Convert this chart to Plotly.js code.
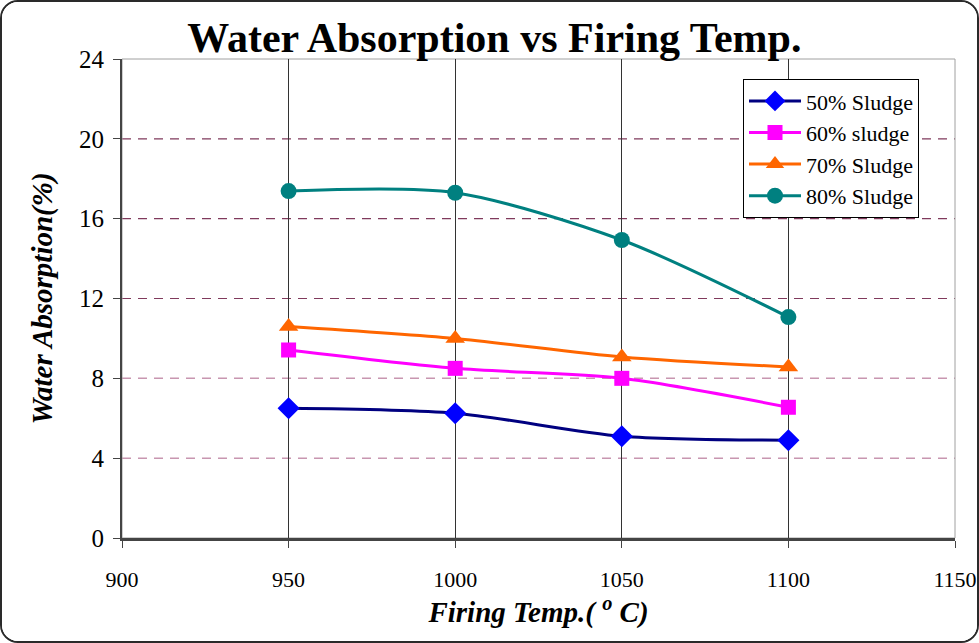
<!DOCTYPE html>
<html>
<head>
<meta charset="utf-8">
<script src="https://cdn.plot.ly/plotly-3.0.1.min.js"></script>
<style>
  html, body { margin: 0; padding: 0; background: #fff; }
  #frame { width: 979px; height: 643px; box-sizing: border-box; border: 2px solid #2a2a2a; border-radius: 18px; overflow: hidden; background: #fff; }
  #chart { width: 975px; height: 639px; }
</style>
</head>
<body>
<div id="frame"><div id="chart"></div></div>
<script>
const temps = [950, 1000, 1050, 1100];
const sludge50 = [6.5, 6.25, 5.1, 4.9];
const sludge60 = [9.42, 8.5, 8.0, 6.55];
const sludge70 = [10.6, 10.0, 9.07, 8.57];
const sludge80 = [17.38, 17.3, 14.93, 11.07];
const seriesNames = ['50% Sludge', '60% sludge', '70% Sludge', '80% Sludge'];
const xTicks = [900, 950, 1000, 1050, 1100, 1150];
const yTicks = [0, 4, 8, 12, 16, 20, 24];
const darkGridVals = [12, 16, 20];
const lightGridVals = [4, 8];

const serif = "'Liberation Serif', 'Times New Roman', serif";

function mk(y, name, lineColor, markerColor, symbol, size) {
  return {
    x: temps, y: y, name: name, type: 'scatter', mode: 'lines+markers',
    line: {color: lineColor, width: 3, shape: 'spline', smoothing: 0.8},
    marker: {color: markerColor, symbol: symbol, size: size, line: {width: 0}},
    legendgroup: name
  };
}

const data = [
  mk(sludge50, seriesNames[0], '#000080', '#0000ff', 'diamond', 17),
  mk(sludge60, seriesNames[1], '#ff00ff', '#ff00ff', 'square', 15),
  mk(sludge70, seriesNames[2], '#ff6600', '#ff6600', 'triangle-up', 17),
  mk(sludge80, seriesNames[3], '#008080', '#008080', 'circle', 16)
];

const shapes = [];
darkGridVals.forEach(v => shapes.push({type: 'line', xref: 'paper', yref: 'y', x0: 0, x1: 1, y0: v, y1: v, layer: 'below', line: {color: '#803a5c', width: 1.2, dash: '9px,7px'}}));
lightGridVals.forEach(v => shapes.push({type: 'line', xref: 'paper', yref: 'y', x0: 0, x1: 1, y0: v, y1: v, layer: 'below', line: {color: '#c896b0', width: 1.5, dash: '9px,7px'}}));
shapes.push({type: 'rect', xref: 'paper', yref: 'paper', x0: 0, x1: 1, y0: 0, y1: 1, layer: 'below', line: {color: '#a0a0a0', width: 1}});

const layout = {
  width: 975, height: 639,
  margin: {l: 120, r: 22, t: 57, b: 103},
  paper_bgcolor: '#ffffff', plot_bgcolor: '#ffffff',
  font: {family: serif, color: '#000'},
  title: {text: '<b>Water Absorption vs Firing Temp.</b>', font: {family: serif, size: 42, color: '#000'}, x: 0.505, xref: 'container', xanchor: 'center', y: 0.944, yref: 'container', yanchor: 'middle'},
  xaxis: {
    range: [900, 1150], tickvals: xTicks, ticktext: xTicks.map(String),
    showgrid: true, gridcolor: '#333333', gridwidth: 1,
    showline: true, linecolor: '#444444', linewidth: 2.5,
    ticks: 'outside', ticklen: 7, tickcolor: '#444', tickwidth: 1,
    tickfont: {family: serif, size: 22, color: '#000'},
    ticklabelstandoff: 13, ticklabeloverflow: 'allow',
    zeroline: false,
    title: {text: '<b><i>Firing Temp.( <sup>o</sup> C)</i></b>', font: {family: serif, size: 29, color: '#000'}, standoff: 8}
  },
  yaxis: {
    range: [0, 24], tickvals: yTicks, ticktext: yTicks.map(String),
    showgrid: false,
    showline: true, linecolor: '#444444', linewidth: 2,
    ticks: 'outside', ticklen: 7, tickcolor: '#444', tickwidth: 1,
    tickfont: {family: serif, size: 25, color: '#000'},
    ticklabelstandoff: 4, ticklabeloverflow: 'allow',
    zeroline: false,
    title: {text: '<b><i>Water Absorption(%)</i></b>', font: {family: serif, size: 29, color: '#000'}, standoff: 18}
  },
  shapes: shapes,
  showlegend: true,
  legend: {
    x: 0.7455, y: 0.958, xanchor: 'left', yanchor: 'top',
    bgcolor: '#ffffff', bordercolor: '#000000', borderwidth: 1,
    font: {family: serif, size: 22, color: '#000'},
    tracegroupgap: 9, itemwidth: 52, traceorder: 'normal'
  }
};

Plotly.newPlot('chart', data, layout, {displayModeBar: false, staticPlot: true});
</script>
</body>
</html>
